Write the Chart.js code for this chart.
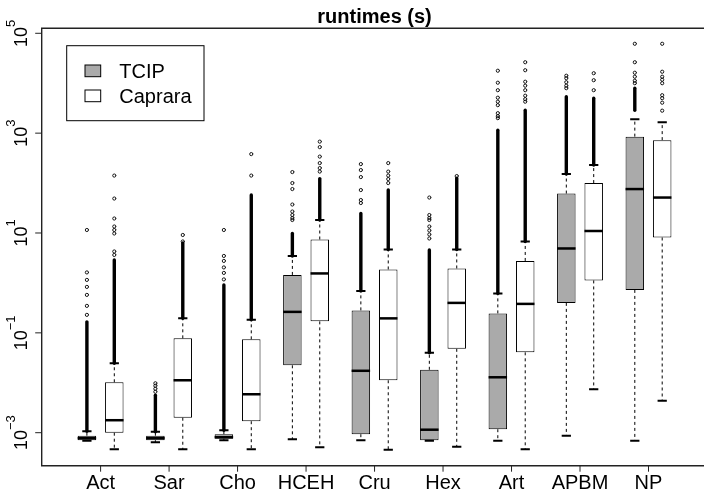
<!DOCTYPE html>
<html>
<head>
<meta charset="utf-8">
<script src="https://cdn.jsdelivr.net/npm/chart.js@4.4.1/dist/chart.umd.min.js"></script>
<style>
  html, body { margin: 0; padding: 0; background: #fff; overflow: hidden; }
  #wrap { width: 716px; height: 490px; }
</style>
</head>
<body>
<div id="wrap"><canvas id="runtimeChart"></canvas></div>
<script>
// Runtime distributions per instance class.
// All values are log10(seconds).
const categories = ['Act', 'Sar', 'Cho', 'HCEH', 'Cru', 'Hex', 'Art', 'APBM', 'NP'];
const yTickExponents = [-3, -1, 1, 3, 5];

const tcipLow    = [-3.16, -3.19, -3.15, -3.13, -3.15, -3.16, -3.16, -3.06, -3.16];
const tcipQ1     = [-3.15, -3.15, -3.12, -1.65, -3.03, -3.15, -2.93, -0.40, -0.14];
const tcipMedian = [-3.11, -3.11, -3.09, -0.58, -1.76, -2.94, -1.89, 0.69, 1.88];
const tcipQ3     = [-3.06, -3.06, -3.03, 0.16, -0.55, -1.74, -0.61, 1.79, 2.93];
const tcipHigh   = [-2.97, -2.98, -2.95, 0.54, -0.16, -1.40, -0.21, 2.18, 3.28];

const caprLow    = [-3.33, -3.33, -3.33, -3.29, -3.34, -3.28, -3.33, -2.13, -2.36];
const caprQ1     = [-3.00, -2.70, -2.77, -0.77, -1.95, -1.32, -1.39, 0.05, 0.91];
const caprMedian = [-2.75, -1.95, -2.23, 0.19, -0.71, -0.40, -0.42, 1.04, 1.71];
const caprQ3     = [-1.99, -1.11, -1.13, 0.87, 0.27, 0.29, 0.44, 2.00, 2.86];
const caprHigh   = [-1.61, -0.71, -0.74, 1.26, 0.67, 0.67, 0.83, 2.36, 3.22];

// single outliers that can be told apart
const tcipOutliers = [
  [1.06, 0.21, 0.06, -0.08, -0.24, -0.46, -0.64],
  [-2.01, -2.06, -2.12, -2.18],
  [1.06, 0.54, 0.44, 0.31, 0.20, 0.07],
  [2.22, 2.00, 1.88, 1.57, 1.43, 1.36, 1.30, 1.26],
  [2.38, 2.26, 2.12, 1.86, 1.66, 1.60],
  [1.71, 1.36, 1.30, 1.26, 1.13, 1.05, 0.97, 0.89],
  [4.25, 4.01, 3.86, 3.71, 3.63, 3.56, 3.40, 3.34, 3.30],
  [4.15, 4.10, 4.02, 3.95, 3.90],
  [4.79, 4.42, 4.21, 4.13, 4.05, 4.00]
];
const caprOutliers = [
  [2.15, 1.69, 1.29, 1.13, 1.06, 0.99, 0.63, 0.56],
  [0.96, 0.83],
  [2.58, 2.15],
  [2.83, 2.72, 2.53, 2.40, 2.30, 2.23],
  [2.40, 2.23, 2.15, 2.08, 2.00],
  [2.14],
  [4.42, 4.26, 4.03, 3.95, 3.86, 3.75, 3.68, 3.63],
  [4.20, 4.06, 3.86],
  [4.79, 4.23, 4.13, 4.07, 4.00, 3.76, 3.70, 3.61, 3.45]
];

// stretches where outliers overlap into one solid column [from, to]
const tcipDense = [[-2.97, -0.78], [-2.98, -2.25], [-2.95, -0.04], [0.54, 0.99], [-0.16, 1.39],
                   [-1.40, 0.66], [-0.21, 3.06], [2.18, 3.73], [3.46, 3.90]];
const caprDense = [[-1.61, 0.46], [-0.71, 0.80], [-0.74, 1.76], [1.26, 2.09], [0.67, 1.86],
                   [0.67, 2.10], [0.83, 3.46], [2.36, 3.70], null];

const sec = e => Math.pow(10, e);

function boxData(q1, q3) {
    return categories.map((c, i) => ({ x: i + 1, y: [sec(q1[i]), sec(q3[i])] }));
}

// whiskers, medians, outliers, frame, axes, title and legend
const boxExtras = {
    id: 'boxExtras',
    afterDatasetsDraw(chart) {
        const ctx = chart.ctx;
        const yScale = chart.scales.y;
        const py = e => yScale.getPixelForValue(sec(e));

        chart.data.datasets.forEach((ds, di) => {
            const meta = chart.getDatasetMeta(di);
            const st = ds.stats;
            meta.data.forEach((bar, i) => {
                const x = bar.x;
                const w = bar.width;
                ctx.save();
                ctx.strokeStyle = '#000';

                // dashed whiskers
                ctx.lineWidth = 1;
                ctx.setLineDash([3, 3]);
                ctx.beginPath();
                ctx.moveTo(x, py(st.q3[i]));
                ctx.lineTo(x, py(st.high[i]));
                ctx.moveTo(x, py(st.q1[i]));
                ctx.lineTo(x, py(st.low[i]));
                ctx.stroke();
                ctx.setLineDash([]);

                // staples
                ctx.lineWidth = 2;
                ctx.beginPath();
                ctx.moveTo(x - w / 4, py(st.high[i]));
                ctx.lineTo(x + w / 4, py(st.high[i]));
                ctx.moveTo(x - w / 4, py(st.low[i]));
                ctx.lineTo(x + w / 4, py(st.low[i]));
                ctx.stroke();

                // median
                ctx.lineWidth = 2.5;
                ctx.beginPath();
                ctx.moveTo(x - w / 2, py(st.median[i]));
                ctx.lineTo(x + w / 2, py(st.median[i]));
                ctx.stroke();

                // dense outlier runs
                const d = st.dense[i];
                if (d) {
                    ctx.lineWidth = 3.4;
                    ctx.lineCap = 'round';
                    ctx.beginPath();
                    ctx.moveTo(x, py(d[0]));
                    ctx.lineTo(x, py(d[1]));
                    ctx.stroke();
                }

                // single outliers, open circles
                ctx.lineWidth = 0.9;
                st.outliers[i].forEach(v => {
                    ctx.beginPath();
                    ctx.arc(x, py(v), 1.6, 0, Math.PI * 2);
                    ctx.stroke();
                });
                ctx.restore();
            });
        });
    },
    afterDraw(chart) {
        const ctx = chart.ctx;
        const area = chart.chartArea;
        const xScale = chart.scales.x;
        const yScale = chart.scales.y;
        ctx.save();

        // plot frame (the right side lies outside the picture)
        ctx.strokeStyle = '#222';
        ctx.lineWidth = 1.4;
        ctx.beginPath();
        ctx.moveTo(area.right, area.top);
        ctx.lineTo(area.left, area.top);
        ctx.lineTo(area.left, area.bottom);
        ctx.lineTo(area.right, area.bottom);
        ctx.stroke();

        // x axis ticks and labels
        ctx.fillStyle = '#000';
        ctx.font = '20px "Liberation Sans", Arial, sans-serif';
        ctx.textAlign = 'center';
        ctx.textBaseline = 'alphabetic';
        ctx.lineWidth = 1;
        categories.forEach((c, i) => {
            const x = xScale.getPixelForValue(i + 1);
            ctx.beginPath();
            ctx.moveTo(x, area.bottom);
            ctx.lineTo(x, area.bottom + 6);
            ctx.stroke();
            ctx.fillText(c, x, area.bottom + 23.3);
        });

        // y axis ticks and rotated 10^n labels
        yTickExponents.forEach(e => {
            const y = yScale.getPixelForValue(sec(e));
            ctx.beginPath();
            ctx.moveTo(area.left - 6.5, y);
            ctx.lineTo(area.left, y);
            ctx.stroke();

            const base = '10';
            const expo = e < 0 ? '\u2212' + Math.abs(e) : String(e);
            ctx.font = '18px "Liberation Sans", Arial, sans-serif';
            const w1 = ctx.measureText(base).width;
            ctx.font = '13px "Liberation Sans", Arial, sans-serif';
            const w2 = ctx.measureText(expo).width;
            const start = -(w1 + w2) / 2;
            ctx.save();
            ctx.translate(27, y);
            ctx.rotate(-Math.PI / 2);
            ctx.textAlign = 'left';
            ctx.font = '18px "Liberation Sans", Arial, sans-serif';
            ctx.fillText(base, start, 0);
            ctx.font = '13px "Liberation Sans", Arial, sans-serif';
            ctx.fillText(expo, start + w1, -12.5);
            ctx.restore();
        });

        // title
        ctx.font = 'bold 20px "Liberation Sans", Arial, sans-serif';
        ctx.textAlign = 'center';
        ctx.fillText('runtimes (s)', (area.left + area.right) / 2, 22.5);

        // legend
        const lg = chart.options.plugins.boxExtras.legend;
        ctx.lineWidth = 1;
        ctx.strokeStyle = '#000';
        ctx.strokeRect(lg.x, lg.y, lg.w, lg.h);
        ctx.font = '20px "Liberation Sans", Arial, sans-serif';
        ctx.textAlign = 'left';
        chart.data.datasets.forEach((ds, i) => {
            const sy = lg.y + lg.firstRow + i * lg.rowGap;
            ctx.fillStyle = ds.backgroundColor;
            ctx.fillRect(lg.x + lg.swatchX, sy, lg.swatchW, lg.swatchH);
            ctx.strokeRect(lg.x + lg.swatchX, sy, lg.swatchW, lg.swatchH);
            ctx.fillStyle = '#000';
            ctx.fillText(ds.label, lg.x + lg.textX, sy + lg.swatchH / 2 + 7.2);
        });
        ctx.restore();
    }
};

const ctx = document.getElementById('runtimeChart').getContext('2d');
new Chart(ctx, {
    type: 'bar',
    data: {
        datasets: [{
            label: 'TCIP',
            data: boxData(tcipQ1, tcipQ3),
            backgroundColor: '#aaaaaa',
            borderColor: '#000',
            borderWidth: 1,
            borderSkipped: false,
            stats: { low: tcipLow, q1: tcipQ1, median: tcipMedian, q3: tcipQ3, high: tcipHigh,
                     outliers: tcipOutliers, dense: tcipDense }
        }, {
            label: 'Caprara',
            data: boxData(caprQ1, caprQ3),
            backgroundColor: '#ffffff',
            borderColor: '#000',
            borderWidth: 1,
            borderSkipped: false,
            stats: { low: caprLow, q1: caprQ1, median: caprMedian, q3: caprQ3, high: caprHigh,
                     outliers: caprOutliers, dense: caprDense }
        }]
    },
    options: {
        responsive: true,
        maintainAspectRatio: false,
        animation: false,
        devicePixelRatio: 1,
        events: [],
        layout: {
            padding: { left: 41.7, top: 28.2, right: 8.6, bottom: 24.3 }
        },
        datasets: {
            bar: { categoryPercentage: 0.8, barPercentage: 0.675 }
        },
        plugins: {
            legend: { display: false },
            tooltip: { enabled: false },
            boxExtras: {
                legend: { x: 66.7, y: 45.7, w: 137.3, h: 75, firstRow: 19.3, rowGap: 25,
                          swatchX: 18.3, swatchW: 15.7, swatchH: 11.7, textX: 52.6 }
            }
        },
        scales: {
            x: {
                type: 'linear',
                display: false,
                offset: false,
                min: 0.14,
                max: 9.86,
                afterBuildTicks: scale => {
                    scale.ticks = categories.map((c, i) => ({ value: i + 1 }));
                }
            },
            y: {
                type: 'logarithmic',
                display: false,
                min: sec(-3.661),
                max: sec(5.102)
            }
        }
    },
    plugins: [boxExtras]
});
</script>
</body>
</html>
